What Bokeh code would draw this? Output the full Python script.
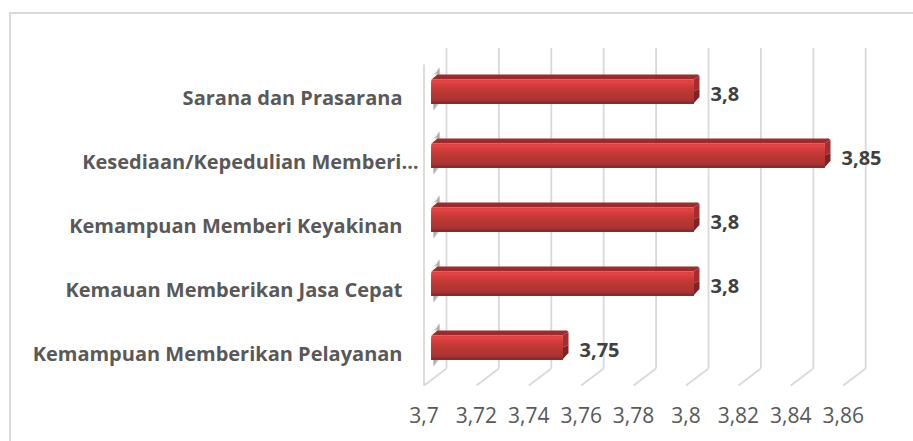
from bokeh.plotting import figure
from bokeh.embed import file_html
from bokeh.resources import INLINE
from bokeh.models import FixedTicker, Range1d, CustomJSTickFormatter
from bokeh.core.properties import value

categories = ["Kemampuan Memberikan Pelayanan", "Kemauan Memberikan Jasa Cepat",
              "Kemampuan Memberi Keyakinan", "Kesediaan/Kepedulian Memberi…", "Sarana dan Prasarana"]
values = [3.75, 3.8, 3.8, 3.85, 3.8]
value_labels = ["3,75", "3,8", "3,8", "3,85", "3,8"]
ticks = [3.7, 3.72, 3.74, 3.76, 3.78, 3.8, 3.82, 3.84, 3.86]
tick_labels = ["3,7", "3,72", "3,74", "3,76", "3,78", "3,8", "3,82", "3,84", "3,86"]

W, H = 913, 441
FRAME_H = 395
FONT = value("Open Sans")
PX_X = 2620.0
PX_Y = 64.0
X0_PAGE = 423.5          # page x of value 3.7 on the front floor edge
Y0_PAGE = 347.0          # page y of first bar centre
px = lambda dx: dx / PX_X
py = lambda dy: dy / PX_Y
page_x = lambda x: 3.7 + (x - X0_PAGE) / PX_X
page_y = lambda y: (Y0_PAGE - y) / PX_Y

p = figure(frame_width=W, frame_height=FRAME_H, output_backend="svg", toolbar_location=None,
           x_range=Range1d(page_x(0), page_x(W)), y_range=Range1d(page_y(FRAME_H), page_y(0)),
           min_border=0, min_border_left=0, min_border_right=0, min_border_top=0,
           min_border_bottom=H - FRAME_H)
p.outline_line_color = None
p.grid.visible = False
p.yaxis.visible = False
p.xaxis.ticker = FixedTicker(ticks=ticks)
p.xaxis.formatter = CustomJSTickFormatter(args=dict(vals=ticks, labs=tick_labels),
    code="return labs[vals.findIndex(t => Math.abs(t - tick) < 1e-6)]")
p.xaxis.axis_line_color = None
p.xaxis.major_tick_line_color = None
p.xaxis.minor_tick_line_color = None
p.xaxis.major_label_text_font = "Open Sans"
p.xaxis.major_label_text_font_size = "21px"
p.xaxis.major_label_text_color = "#595959"
p.xaxis.major_label_standoff = 5

# chart area border: only its top and left edges reach the picture
border_c = "#d9d9d9"
p.border_fill_color = None
p.background_fill_color = None
p.styles = {
    "background-color": "#ffffff",
    "background-image": f"linear-gradient({border_c},{border_c}), linear-gradient({border_c},{border_c})",
    "background-position": "9px 12px, 9px 12px",
    "background-size": "2px 429px, 904px 2px",
    "background-repeat": "no-repeat",
}

# walls
foot_y = page_y(385)
back_y = page_y(368)
top_back = page_y(47.5)
dx_wall = px(22.5)
grid_c = "#d9d9d9"
n_t = len(ticks)
back_x = [t + dx_wall for t in ticks]
p.segment(x0=ticks, x1=back_x, y0=[foot_y] * n_t, y1=[back_y] * n_t, line_color=grid_c, line_width=1.8)
p.segment(x0=back_x, x1=back_x, y0=[back_y] * n_t, y1=[top_back] * n_t, line_color=grid_c, line_width=1.8)
p.segment(x0=[ticks[0]], x1=[ticks[0]], y0=[foot_y], y1=[page_y(64)], line_color=grid_c, line_width=1.8)

# bars
ys = list(range(len(values)))
start = page_x(431)
hh = py(12)
depth_x = px(6)
depth_y = py(5)
lefts = [start] * len(values)
rights = [v + px(7.5) for v in values]

# soft shadow on the wall above and below each bar
for c, a, w in [("#bdbdbd", 0.8, 6), ("#8f8f8f", 0.6, 3)]:
    p.patches(xs=[[start + px(8 - w), start + px(8), start + px(8), start + px(8 - w)] for _ in ys],
              ys=[[y + hh + depth_y, y + hh + py(12), y + hh + depth_y, y + hh + depth_y] for y in ys],
              fill_color=c, fill_alpha=a, line_color=None)
    p.patches(xs=[[start + px(2), start + px(2 + w), start + px(2)] for _ in ys],
              ys=[[y - hh, y - hh, y - hh - py(7)] for y in ys],
              fill_color=c, fill_alpha=a, line_color=None)

# top face
p.patches(xs=[[start, start + depth_x, r + depth_x - px(1.5), r + depth_x, r] for r in rights],
          ys=[[y + hh, y + hh + depth_y, y + hh + depth_y, y + hh + depth_y - py(1.5), y + hh] for y in ys],
          fill_color="#9c2b2b", fill_alpha=1, line_color=None)
# right face, upper and lower part
p.patches(xs=[[r, r + depth_x, r + depth_x, r] for r in rights],
          ys=[[y + hh, y + hh + depth_y - py(1.5), y + depth_y * 0.5, y] for y in ys],
          fill_color="#a32e2d", fill_alpha=1, line_color=None)
p.patches(xs=[[r, r + depth_x, r + depth_x, r + depth_x - px(1.5), r] for r in rights],
          ys=[[y, y + depth_y * 0.5, y - hh + depth_y + py(1.5), y - hh + depth_y, y - hh] for y in ys],
          fill_color="#7f2221", fill_alpha=1, line_color=None)
# front face: one shade per pixel row, each painted down to the bar's bottom so no seams show
bands = ["#d94140", "#e24543", "#e24543", "#de4342", "#d94140", "#d43f3e", "#cf3d3c", "#cb3c3b",
         "#c73b3a", "#c43a39", "#c13938", "#be3837", "#bb3736", "#b93736", "#b73635", "#b53635",
         "#b33534", "#b13433", "#af3433", "#ac3332", "#a93231", "#a23030", "#952b2a", "#842524"]
n = len(bands)
bottoms = [y - hh for y in ys]
for i, c in enumerate(bands):
    t = [y + hh - 2 * hh * i / n for y in ys]
    p.quad(left=lefts, right=rights, top=t, bottom=bottoms, fill_color=c, fill_alpha=1, line_color=None)

# category labels and value labels
label_right = [page_x(402), page_x(402), page_x(402), page_x(418), page_x(402)]
p.text(x=label_right, y=[y - py(5.5) for y in ys], text=categories, text_align="right", text_baseline="middle",
       text_font=FONT, text_font_style="bold", text_font_size="20px", text_color="#595959")
p.text(x=[r + depth_x + px(11) for r in rights], y=[y - py(2) for y in ys], text=value_labels,
       text_align="left", text_baseline="middle", text_font=FONT, text_font_style="bold",
       text_font_size="20px", text_color="#404040")

open("out.html", "w").write(file_html(p, INLINE))
